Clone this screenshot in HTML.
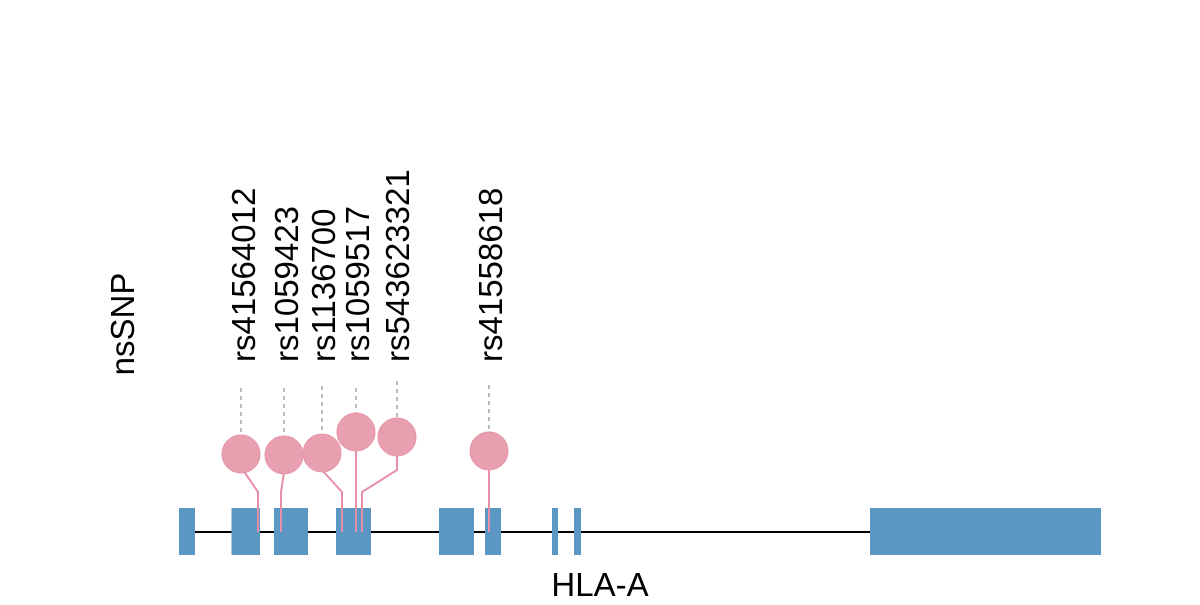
<!DOCTYPE html>
<html><head><style>body{margin:0;background:#fff}</style></head><body>
<svg width="1200" height="600" xmlns="http://www.w3.org/2000/svg" font-family="Liberation Sans, sans-serif">
<line x1="179" y1="532" x2="1101" y2="532" stroke="#000" stroke-width="2"/>
<g fill="#5b97c3">
<rect x="179" y="508" width="16" height="47"/>
<rect x="231.5" y="508" width="28.5" height="47"/>
<rect x="274" y="508" width="34" height="47"/>
<rect x="336" y="508" width="35" height="47"/>
<rect x="439" y="508" width="35" height="47"/>
<rect x="485" y="508" width="16" height="47"/>
<rect x="552" y="508" width="6" height="47"/>
<rect x="574" y="508" width="7" height="47"/>
<rect x="870" y="508" width="231" height="47"/>
</g>
<g stroke="#bbb" stroke-width="2" stroke-dasharray="4,4">
<line x1="241" y1="388" x2="241" y2="435"/>
<line x1="284" y1="388" x2="284" y2="436"/>
<line x1="322" y1="386" x2="322" y2="434"/>
<line x1="356" y1="388" x2="356" y2="413"/>
<line x1="397" y1="381" x2="397" y2="418"/>
<line x1="489" y1="385" x2="489" y2="432"/>
</g>
<g stroke="#e68fa6" stroke-width="2" fill="none">
<polyline points="243,470 258,492 258,532"/>
<polyline points="284,472 281,492 281,532"/>
<polyline points="322,470 342,492 342,532"/>
<polyline points="356,450 356,532"/>
<polyline points="397,455 397,470 362,492 362,532"/>
<polyline points="489,470 489,532"/>
</g>
<g fill="#e8a0b0" stroke="#e595a8" stroke-width="1">
<circle cx="241" cy="454" r="19"/>
<circle cx="284" cy="455" r="19"/>
<circle cx="322" cy="453" r="19"/>
<circle cx="356" cy="432" r="19"/>
<circle cx="397" cy="437" r="19"/>
<circle cx="489" cy="451" r="19"/>
</g>
<g font-size="33" fill="#000">
<text transform="translate(255,362) rotate(-90)">rs41564012</text>
<text transform="translate(298,362) rotate(-90)">rs1059423</text>
<text transform="translate(335,362) rotate(-90)">rs1136700</text>
<text transform="translate(369,362) rotate(-90)">rs1059517</text>
<text transform="translate(409,362) rotate(-90)">rs543623321</text>
<text transform="translate(502,362) rotate(-90)">rs41558618</text>
<text transform="translate(134,324) rotate(-90)" text-anchor="middle">nsSNP</text>
<text x="600" y="596" text-anchor="middle">HLA-A</text>
</g>
</svg>
</body></html>
